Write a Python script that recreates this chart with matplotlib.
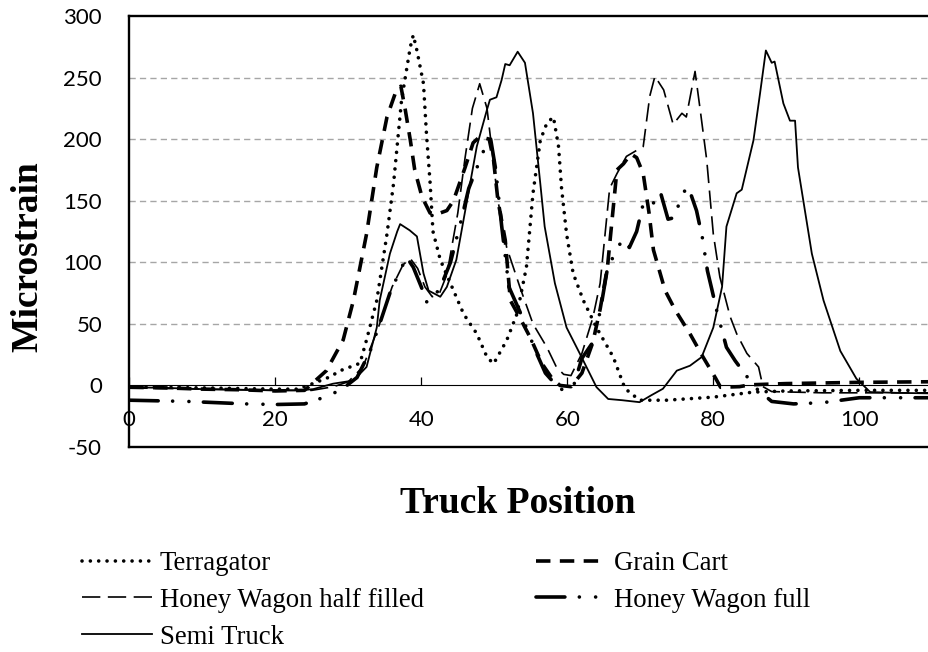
import matplotlib
matplotlib.use("Agg")
import matplotlib.pyplot as plt

plt.rcParams["axes.unicode_minus"] = False

# ---------------- data ----------------
terragator_x = [0, 5, 10, 15, 20, 23, 25.2, 27.5, 28.9, 31.6, 32.5, 33.9, 35.3, 36.2, 37.3, 38.5, 38.9, 39.4,
                40.3, 40.7, 41.2, 41.6, 42.6, 44.2, 45.8, 47.6, 49.0, 49.9, 51.7, 53.1, 54.4, 55.3, 56.3, 57.2,
                58.1, 58.8, 59.2, 59.9, 60.8, 62.2, 64.0, 66.3, 67.9, 69.9, 73.6, 80, 85.5, 90, 100, 110]
terragator_y = [-1, -1.5, -2, -2.5, -3, -3, 1.6, 7, 12, 18, 37, 69, 123, 164, 232, 275, 284.5, 272,
                245, 205, 165, 125, 102, 80, 58, 42, 23, 17.6, 36.6, 58, 96, 156, 199, 213,
                218, 194, 161, 123, 91, 69, 47, 23, -2.5, -12, -12, -9.5, -5.4, -4.5, -4, -4]

grain_cart_x = [0, 5, 10, 15, 20, 24, 27, 29.3, 30.7, 32.5, 33.9, 35.3, 36.6, 37.2, 37.8, 38.5, 39.1, 40.1,
                41.2, 42.1, 43.5, 44.4, 46.0, 47.1, 48.0, 49.3, 49.9, 50.5, 51.5, 52.2, 53.5, 55.0, 56.5,
                58.0, 59.0, 60.5, 62.0, 63.5, 64.5, 65.5, 66.8, 67.7, 68.7, 69.5, 70.4, 71.2, 71.8, 73.4,
                74.8, 76.8, 78.6, 80.3, 81.0, 83.6, 85, 90, 100, 110]
grain_cart_y = [-1.5, -2, -3, -3.5, -4.5, -4, 12, 37, 69, 123, 177, 218, 240, 243, 224, 199, 175, 153,
                140, 139, 142, 150, 177, 197, 202, 200, 183, 150, 118, 69, 55, 38, 18,
                5, 0, -1, 10, 35, 62, 96, 175, 180, 188, 185, 172, 140, 110, 77,
                61, 42, 23, 6, -1.5, -1, 0.5, 1.5, 2.5, 3]

hw_half_x = [0, 5, 10, 15, 20, 25, 28, 30, 32, 34, 36, 37.5, 38.5, 39.5, 40.5, 41.5, 42.5, 43.5, 45, 46,
             47, 48, 49, 49.7, 50.5, 51.7, 53.5, 55.3, 57.2, 58.5, 59.5, 60.5, 62, 63.5, 64.5, 65.8, 66.8,
             68.1, 70.4, 71.3, 72, 73.2, 74.5, 75.7, 76.3, 77.5, 78.2, 79.1, 80, 80.9, 82.3, 83.2, 84.6,
             86.2, 86.8, 88, 95, 110]
hw_half_y = [-2, -2.5, -3, -3.5, -4, -4, -1, 3, 15, 45, 80, 98, 103, 95, 80, 72, 75, 90, 140, 185,
             225, 245, 225, 190, 150, 112, 80, 50, 31, 15, 9, 8, 26, 55, 83, 160, 172,
             186, 194, 235, 251, 240, 212, 221, 218, 255, 224, 183, 123, 88, 56, 42, 26,
             15, -1, -5, -6, -6]

hw_full_x = [0, 4, 8, 12, 16, 20, 24, 25.5, 27.5, 29.5, 31.2, 33, 34.3, 35.7, 37.1, 38, 38.9, 40, 40.8,
             42.5, 44, 45.5, 46.5, 47.5, 48.5, 49.5, 50.2, 51, 52, 53.5, 55.8, 57, 58.2, 59.4, 60.8, 62,
             63.5, 64.5, 65.5, 66.5, 67.5, 68.5, 69.5, 70.5, 72, 72.8, 73.8, 74.5, 75.5, 76.3, 77, 77.7,
             78.5, 79.2, 79.8, 80.5, 81.8, 83, 84.5, 86, 88, 91, 95, 100, 105, 110]
hw_full_y = [-12, -12.5, -13, -14, -15, -15.5, -15, -12, -8, -1.4, 6.5, 28, 50, 75, 93.5, 104, 96, 80, 67,
             78, 100, 135, 160, 175, 190, 200, 175, 130, 80, 60, 26, 10, 2, -4, -1.6, 22,
             35, 60, 95, 107, 118, 112, 125, 150, 148, 156, 135, 136, 150, 161, 154, 142,
             120, 93, 78, 60, 31, 20, 8, -3, -13, -15, -14, -10, -10, -10]

semi_x = [0, 5, 10, 15, 20, 23.4, 25.2, 27.9, 30.7, 32.5, 33.9, 34.3, 35.7, 36.7, 37.1, 38.4, 39.4, 40.3,
          41.0, 42.6, 43.5, 44.8, 46.2, 47.6, 49.0, 49.4, 50.3, 51.0, 51.5, 52.1, 53.2, 54.2, 55.3, 56.3,
          56.9, 58.3, 59.9, 61.7, 64.0, 65.6, 67.5, 69.9, 71.5, 73.1, 75.0, 76.8, 78.4, 80.0, 81.2, 81.8,
          83.2, 83.9, 85.5, 86.4, 87.2, 88.0, 88.4, 89.6, 90.5, 91.2, 91.6, 93.5, 95.1, 97.4, 99.6, 101.5,
          105.0, 110.0]
semi_y = [-1.5, -2, -3, -3.5, -4, -4, -3, 1.4, 4, 15, 47, 69, 107, 125, 131, 126, 121, 91,
          77, 72, 80, 102, 148, 194, 224, 232, 234, 248, 261, 260, 271, 262, 221, 164,
          129, 83, 47, 26, -1.4, -11, -12, -13.6, -8, -2.7, 12, 16, 23, 47, 80, 129,
          156, 159, 199, 237, 272, 262, 263, 229, 215, 215, 177, 107, 69, 28, 5.5, -5.4,
          -6, -6.5]

y_ticks = [-50, 0, 50, 100, 150, 200, 250, 300]
x_ticks = [0, 20, 40, 60, 80, 100]

# ---------------- figure ----------------
W, H = 929, 652
fig = plt.figure(figsize=(W / 100, H / 100), dpi=100)
ax = fig.add_axes([129.3 / W, (H - 447) / H, 110 * 7.3 / W, 431 / H])
ax.set_xlim(0, 110)
ax.set_ylim(-50, 300)

# grid lines
for v in y_ticks:
    if v not in (y_ticks[0], 0, y_ticks[-1]):
        ax.axhline(v, color="#a6a6a6", lw=1.0, ls=(0, (4.5, 3)), zorder=1)

k = "black"
l_terr, = ax.plot(terragator_x, terragator_y, color=k, lw=2.6, ls=(0, (0.01, 2.3)),
                  dash_capstyle="round", zorder=3, label="Terragator")
l_grain, = ax.plot(grain_cart_x, grain_cart_y, color=k, lw=2.6, ls=(0, (4.0, 2.6)),
                   dash_capstyle="butt", zorder=3, label="Grain Cart")
l_half, = ax.plot(hw_half_x, hw_half_y, color=k, lw=1.2, ls=(0, (11, 4.5)),
                  zorder=3, label="Honey Wagon half filled")
l_full, = ax.plot(hw_full_x, hw_full_y, color=k, lw=2.6, ls=(0, (8, 4, 0.01, 4.5, 0.01, 4)),
                  dash_capstyle="round", zorder=3, label="Honey Wagon full")
l_semi, = ax.plot(semi_x, semi_y, color=k, lw=1.3, zorder=3, label="Semi Truck")

# spines
ax.spines["right"].set_visible(False)
ax.spines["top"].set_linewidth(1.7)
ax.spines["left"].set_linewidth(1.7)
ax.spines["bottom"].set_position(("data", 0))
ax.spines["bottom"].set_linewidth(0.8)
ax.axhline(-50, color=k, lw=1.7, clip_on=False, zorder=5)

ax.set_xticks(x_ticks)
ax.set_yticks(y_ticks)
ax.tick_params(axis="x", direction="in", length=6, width=0.9, pad=18, labelsize=16)
ax.tick_params(axis="y", length=0, pad=19.6, labelsize=16)
for lab in ax.get_xticklabels() + ax.get_yticklabels():
    lab.set_family("Lato")

fig.text(28 / W, 1 - 257 / H, "Microstrain", rotation=90, ha="center", va="center",
         family="Liberation Serif", weight="bold", size=27)
fig.text(518 / W, 1 - 513 / H, "Truck Position", ha="center", va="baseline",
         family="Liberation Serif", weight="bold", size=27)

fig.legend(handles=[l_terr, l_half, l_semi, l_grain, l_full], ncol=2, loc="upper left",
           bbox_to_anchor=(82 / W, 1 - 551 / H), frameon=False,
           prop={"family": "Liberation Serif", "size": 19.3},
           handlelength=2.6, handletextpad=0.3, columnspacing=4.2, labelspacing=0.44,
           borderpad=0, borderaxespad=0)

fig.savefig("out.png", dpi=100)
